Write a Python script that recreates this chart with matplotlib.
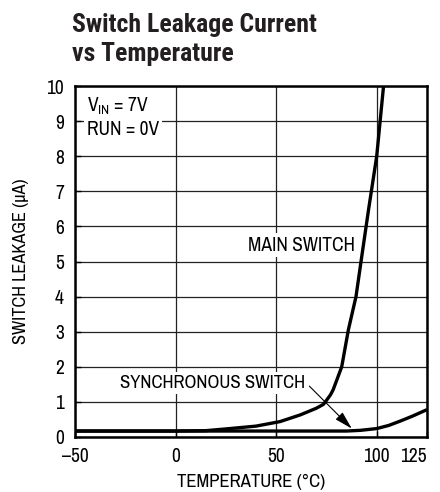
import matplotlib
matplotlib.use('Agg')
import matplotlib.pyplot as plt

plt.rcParams['font.family'] = ['Archivo Narrow', 'DejaVu Sans']
plt.rcParams['font.stretch'] = 'condensed'

# readings from the curve (deg C, uA)
main_temp = [-50, 0, 15, 25, 40, 52, 62, 70, 73.5, 75.1, 77, 78.3, 80, 82.6, 85.9, 89.7, 92.2, 96, 100, 103.4]
main_leak = [0.17, 0.17, 0.18, 0.23, 0.31, 0.44, 0.63, 0.82, 0.93, 1.05, 1.2, 1.34, 1.6, 2.0, 3.05, 4.0, 5.0, 6.5, 8.0, 10.0]

sync_temp = [-50, 0, 50, 85, 92, 100, 106, 112, 118, 125]
sync_leak = [0.17, 0.17, 0.17, 0.17, 0.19, 0.24, 0.33, 0.46, 0.6, 0.78]

x_ticks = [-50, 0, 50, 100, 125]
x_labels = ['\u201350', '0', '50', '100', '125']
y_ticks = list(range(0, 11))

fig = plt.figure(figsize=(4.4, 4.92), dpi=100)
ax = fig.add_axes([75/440, 55/492, 352/440, 351/492])

ax.plot(main_temp, main_leak, color='black', lw=2.4, solid_capstyle='butt', zorder=3)
ax.plot(sync_temp, sync_leak, color='black', lw=2.4, solid_capstyle='butt', zorder=3)

ax.set_xlim(-50, 125)
ax.set_ylim(0, 10)
ax.set_xticks(x_ticks)
ax.set_xticklabels(x_labels)
ax.set_yticks(y_ticks)
ax.tick_params(direction='in', length=4, width=1, labelsize=14)
ax.tick_params(axis='x', pad=7)
ax.tick_params(axis='y', pad=8)
ax.get_xticklabels()[-1].set_ha('right')
for s in ax.spines.values():
    s.set_linewidth(1.8)
ax.grid(True, color='#222222', lw=0.9)
ax.set_axisbelow(True)

ax.set_xlabel('TEMPERATURE (°C)', fontsize=13.5, labelpad=6)
ax.set_ylabel('SWITCH LEAKAGE (µA)', fontsize=13.2, labelpad=12)

white = dict(facecolor='white', edgecolor='none', pad=2)
ax.text(-44, 9.26, 'V$_{\\mathregular{IN}}$ = 7V', fontsize=14, va='baseline', ha='left',
        bbox=white, zorder=2)
ax.text(-44, 8.6, 'RUN = 0V', fontsize=14, va='baseline', ha='left', bbox=white, zorder=2)
ax.text(89, 5.47, 'MAIN SWITCH', fontsize=14, va='center', ha='right', bbox=white, zorder=2)
ax.text(64.5, 1.54, 'SYNCHRONOUS SWITCH', fontsize=13.5, va='center', ha='right', bbox=white, zorder=2)
ax.annotate('', xy=(87.6, 0.24), xytext=(66.5, 1.45),
            arrowprops=dict(arrowstyle='-|>,head_length=1.1,head_width=0.3', color='black', lw=0.8,
                            shrinkA=0, shrinkB=0), zorder=4)

title_font = ['Roboto Condensed', 'Barlow Semi Condensed', 'DejaVu Sans']
fig.text(72/440, 1 - 32/492, 'Switch Leakage Current', fontsize=18.5, fontweight='bold',
         family=title_font, color='#231f20', va='baseline', ha='left')
fig.text(72/440, 1 - 61/492, 'vs Temperature', fontsize=18.5, fontweight='bold',
         family=title_font, color='#231f20', va='baseline', ha='left')

fig.savefig('out.png', dpi=100)
